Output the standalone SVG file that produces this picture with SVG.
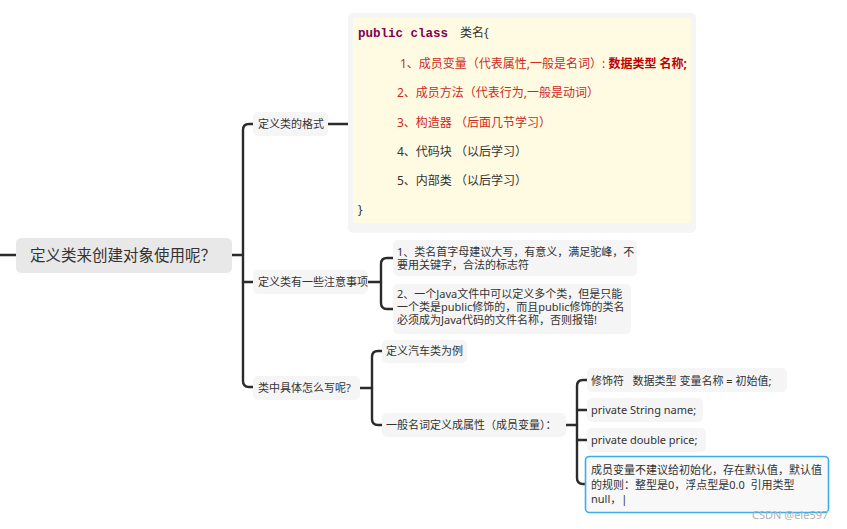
<svg xmlns="http://www.w3.org/2000/svg" width="847" height="529" viewBox="0 0 847 529">
<style>
.t{font-family:"Noto Sans","Noto Sans CJK SC",sans-serif;fill:#333;}
.s11{font-size:11px;}
.s12{font-size:12px;}
.nb{fill:#f5f5f5;}
.red{fill:#cc2a1f;}
.ln{fill:none;stroke:#2b2b2b;stroke-width:2.4;stroke-linecap:round;stroke-linejoin:round;}
</style>
<rect width="847" height="529" fill="#ffffff"/>
<g id="connectors">
<path class="ln" d="M0 255 H16"/>
<path class="ln" d="M232 255 H243"/>
<path class="ln" d="M253 124 H249 Q243 124 243 130 V381 Q243 387 249 387 H253"/>
<path class="ln" d="M243 282 H253"/>
<path class="ln" d="M328 124 H349"/>
<path class="ln" d="M368 282 H381"/>
<path class="ln" d="M393 258 H387 Q381 258 381 264 V303 Q381 309 387 309 H393"/>
<path class="ln" d="M360 388 H372"/>
<path class="ln" d="M382 351 H378 Q372 351 372 357 V419 Q372 425 378 425 H382"/>
<path class="ln" d="M566 425 H577"/>
<path class="ln" d="M587 380 H583 Q577 380 577 386 V478 Q577 484 583 484 H586"/>
<path class="ln" d="M577 410 H587"/>
<path class="ln" d="M577 440 H587"/>
</g>
<g id="root">
<rect x="16" y="238" width="216" height="35" rx="5" fill="#e8e8e8"/>
<text class="t" x="30" y="261" style="font-size:15.5px">定义类来创建对象使用呢？</text>
</g>
<g id="n-format">
<rect class="nb" x="253" y="112" width="75" height="24" rx="5"/>
<text class="t s11" x="258" y="128">定义类的格式</text>
</g>
<g id="n-classbox">
<rect x="348" y="13" width="348" height="220" rx="5" fill="#f5f5f5"/>
<rect x="353" y="18" width="338" height="205" fill="#fffbe3"/>
<text x="358" y="37" style="font-family:'Liberation Mono',monospace;font-size:12.5px;font-weight:bold;fill:#7f0055">public class</text>
<text class="t s12" x="460" y="37">类名{</text>
<text class="t s12 red" x="400" y="68">1、成员变量（代表属性,一般是名词）: <tspan font-weight="bold" fill="#c00000">数据类型 名称;</tspan></text>
<text class="t s12 red" x="397" y="97">2、成员方法（代表行为,一般是动词）</text>
<text class="t s12 red" x="397" y="127">3、构造器 （后面几节学习）</text>
<text class="t s12" x="397" y="156">4、代码块 （以后学习）</text>
<text class="t s12" x="397" y="185">5、内部类 （以后学习）</text>
<text class="t s12" x="358" y="214">}</text>
</g>
<g id="n-notes">
<rect class="nb" x="253" y="270" width="115" height="24" rx="5"/>
<text class="t s11" x="258" y="286">定义类有一些注意事项</text>
</g>
<g id="n-note1">
<rect class="nb" x="393" y="240" width="244" height="36" rx="5"/>
<text class="t s11" x="397" y="256">1、类名首字母建议大写，有意义，满足驼峰，不</text>
<text class="t s11" x="397" y="269">要用关键字，合法的标志符</text>
</g>
<g id="n-note2">
<rect class="nb" x="393" y="284" width="238" height="50" rx="5"/>
<text class="t s11" x="397" y="298">2、一个Java文件中可以定义多个类，但是只能</text>
<text class="t s11" x="397" y="311">一个类是public修饰的，而且public修饰的类名</text>
<text class="t s11" x="397" y="324">必须成为Java代码的文件名称，否则报错!</text>
</g>
<g id="n-how">
<rect class="nb" x="253" y="376" width="107" height="24" rx="5"/>
<text class="t s11" x="258" y="392">类中具体怎么写呢?</text>
</g>
<g id="n-car">
<rect class="nb" x="382" y="340" width="85" height="23" rx="5"/>
<text class="t s11" x="386" y="355">定义汽车类为例</text>
</g>
<g id="n-attr">
<rect class="nb" x="382" y="413" width="184" height="24" rx="5"/>
<text class="t s11" x="386" y="429">一般名词定义成属性（成员变量）：</text>
</g>
<g id="n-leaf1">
<rect class="nb" x="587" y="368" width="200" height="24" rx="5"/>
<text class="t s11" x="591" y="385" xml:space="preserve">修饰符   数据类型 变量名称 = 初始值;</text>
</g>
<g id="n-leaf2">
<rect class="nb" x="587" y="398" width="116" height="24" rx="5"/>
<text class="t s11" x="591" y="414">private String name;</text>
</g>
<g id="n-leaf3">
<rect class="nb" x="587" y="428" width="119" height="24" rx="5"/>
<text class="t s11" x="591" y="444">private double price;</text>
</g>
<g id="n-leaf4">
<rect x="585.5" y="456.5" width="243" height="56" rx="4" fill="#f8f8f8" stroke="#3aaee8" stroke-width="1.6"/>
<text class="t s11" x="591" y="474">成员变量不建议给初始化，存在默认值，默认值</text>
<text class="t s11" x="591" y="489" xml:space="preserve">的规则：整型是0，浮点型是0.0  引用类型</text>
<text class="t s11" x="591" y="503">null，|</text>
</g>
<text class="t" x="752" y="519" style="font-size:11px;fill:#b0b0b0">CSDN @ele597</text>
</svg>
